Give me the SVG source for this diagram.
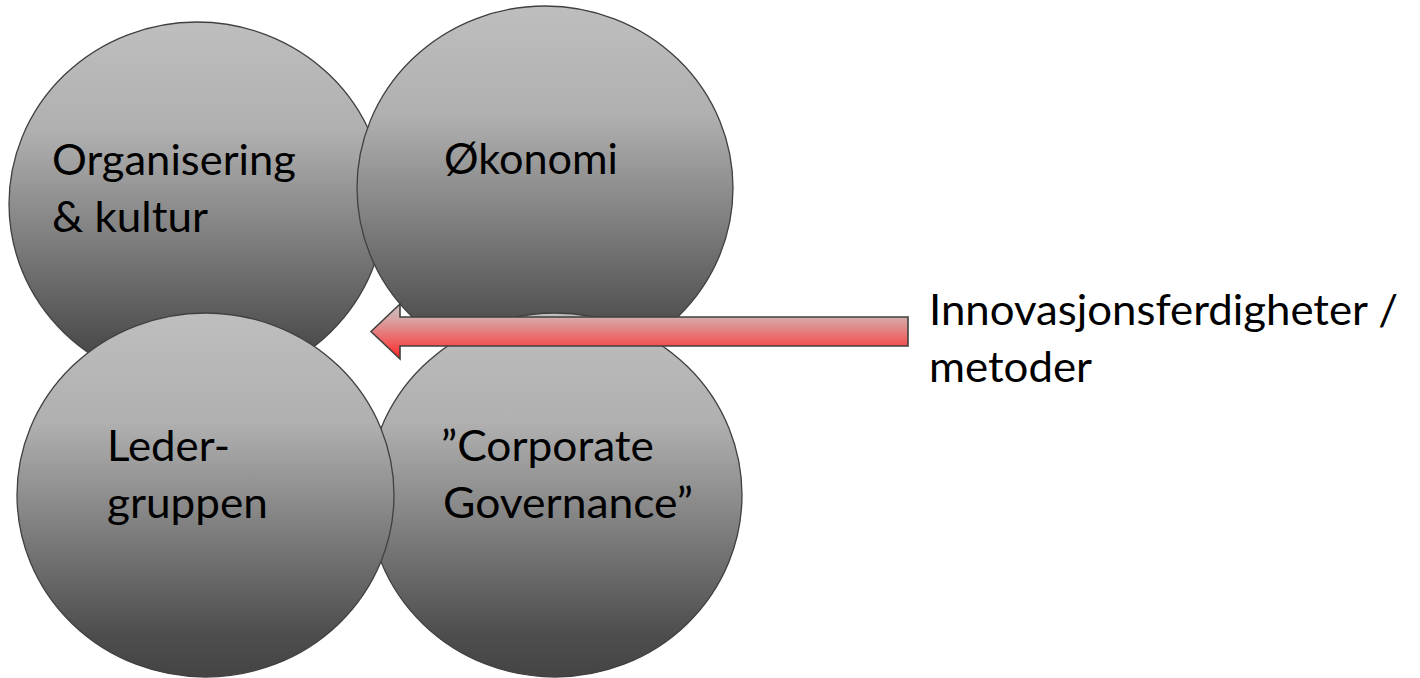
<svg xmlns="http://www.w3.org/2000/svg" width="1420" height="678" viewBox="0 0 1420 678">
  <defs>
    <linearGradient id="gray" x1="0" y1="0" x2="0" y2="1">
      <stop offset="0" stop-color="#bebebe"/>
      <stop offset="0.3" stop-color="#b0b0b0"/>
      <stop offset="0.58" stop-color="#818181"/>
      <stop offset="0.88" stop-color="#4e4e4e"/>
      <stop offset="1" stop-color="#444444"/>
    </linearGradient>
    <linearGradient id="red" x1="0" y1="0" x2="0" y2="1">
      <stop offset="0" stop-color="#cdbbbb"/>
      <stop offset="0.25" stop-color="#d7a9a9"/>
      <stop offset="0.72" stop-color="#f25858"/>
      <stop offset="1" stop-color="#ff2222"/>
    </linearGradient>
    <style>
      .node { fill: url(#gray); stroke: #404040; stroke-width: 1.3; }
      .lbl { font-family: Lato, "Open Sans", "Liberation Sans", sans-serif; font-size: 43px; fill: #000000; }
      .arrow { fill: url(#red); stroke: #404040; stroke-width: 1.6; stroke-linejoin: miter; }
    </style>
  </defs>
  <rect width="1420" height="678" fill="#ffffff"/>

  <g id="node-organisering">
    <ellipse class="node" cx="197" cy="204" rx="188" ry="182"/>
    <text class="lbl" x="52" y="175" textLength="244" lengthAdjust="spacingAndGlyphs">Organisering</text>
    <text class="lbl" x="52" y="232" textLength="156" lengthAdjust="spacingAndGlyphs">&amp; kultur</text>
  </g>
  <g id="node-okonomi">
    <ellipse class="node" cx="545" cy="188" rx="188" ry="182"/>
    <text class="lbl" x="444" y="174" textLength="174" lengthAdjust="spacingAndGlyphs">Økonomi</text>
  </g>
  <g id="node-corporate">
    <ellipse class="node" cx="555" cy="495" rx="187" ry="182"/>
    <text class="lbl" x="441" y="461" textLength="213" lengthAdjust="spacingAndGlyphs">”Corporate</text>
    <text class="lbl" x="443" y="518" textLength="250" lengthAdjust="spacingAndGlyphs">Governance”</text>
  </g>
  <g id="node-ledergruppen">
    <ellipse class="node" cx="205.5" cy="495" rx="188.5" ry="182"/>
    <text class="lbl" x="107" y="461" textLength="123" lengthAdjust="spacingAndGlyphs">Leder-</text>
    <text class="lbl" x="107" y="518" textLength="161" lengthAdjust="spacingAndGlyphs">gruppen</text>
  </g>

  <g id="connectors">
    <path class="arrow" d="M371,331.5 L400,304 L400,317 L908,317 L908,346 L400,346 L400,359 Z"/>
  </g>

  <g id="label-innovasjon">
    <text class="lbl" x="929" y="325" textLength="469" lengthAdjust="spacingAndGlyphs">Innovasjonsferdigheter /</text>
    <text class="lbl" x="929" y="382" textLength="163" lengthAdjust="spacingAndGlyphs">metoder</text>
  </g>
</svg>
